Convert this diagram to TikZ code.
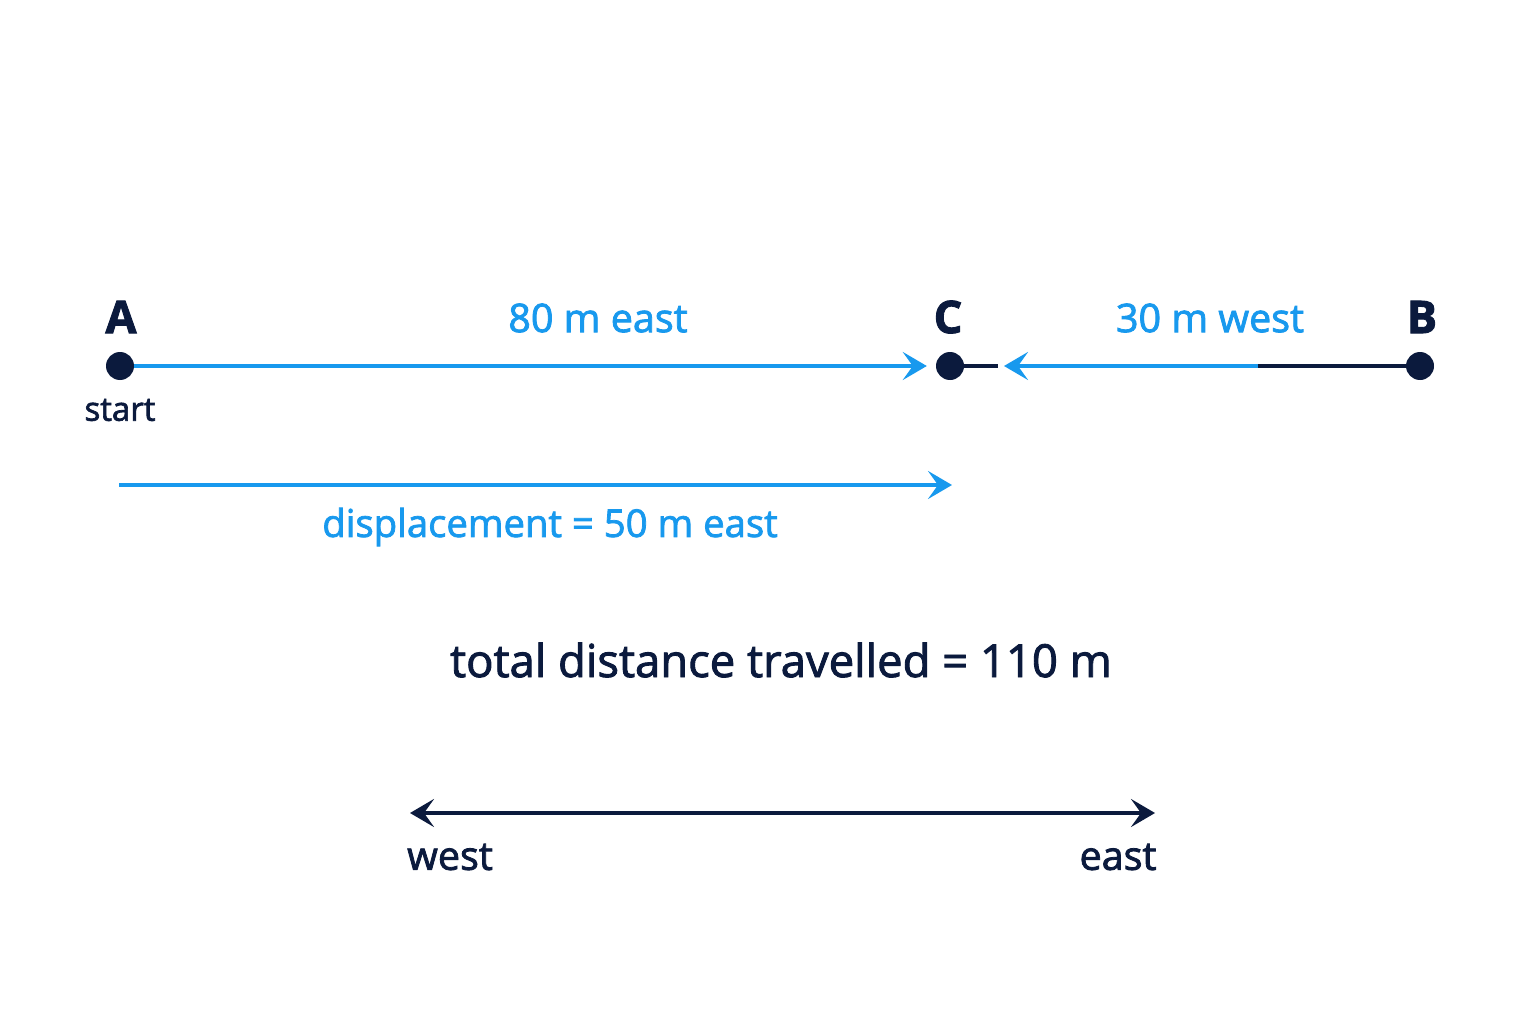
\documentclass[tikz,border=0pt]{standalone}
\usepackage{fontspec}
\setmainfont{Open Sans}[FakeBold=2]
\usetikzlibrary{arrows.meta}
\definecolor{navy}{HTML}{0B1A3D}
\definecolor{sky}{HTML}{1899EE}
\begin{document}
\begin{tikzpicture}[x=1pt,y=-1pt,
  dot/.style={circle,fill=navy,minimum size=28pt,inner sep=0pt},
  lbl/.style={inner sep=0pt,font=\fontsize{39.5}{41}\selectfont},
  ptlbl/.style={inner sep=0pt,text=navy,font=\fontsize{45}{47}\selectfont\bfseries},
  bluearrow/.style={draw=sky,line width=4pt,-{Stealth[length=24pt,width=28pt,inset=10pt]}},
  navyline/.style={draw=navy,line width=3.5pt},
  navyarrow/.style={draw=navy,line width=4pt,{Stealth[length=24pt,width=28pt,inset=10pt]}-{Stealth[length=24pt,width=28pt,inset=10pt]}}]
\fill[white] (0,0) rectangle (1536,1024);
% points
\node[dot] (A) at (120,366) {};
\node[dot] (C) at (950,366) {};
\node[dot] (B) at (1420,366) {};
\node[ptlbl] (Alab) at (121,317) {A};
\node[ptlbl] (Clab) at (948,317) {C};
\node[ptlbl] (Blab) at (1422,317) {B};
\node[lbl,text=navy,font=\fontsize{33}{35}\selectfont] (start) at (120,410) {start};
\coordinate (cend) at (998,366);
\coordinate (mid) at (1258,366);
% legs
\draw[bluearrow,shorten >=9pt] (A) -- (C);
\draw[navyline] (C) -- (cend);
\draw[navyline] (B) -- (mid);
\draw[bluearrow,shorten >=6pt] (mid) -- (cend);
\node[lbl,text=sky] (leg1) at (598,318) {80 m east};
\node[lbl,text=sky] (leg2) at (1210,318) {30 m west};
% displacement
\coordinate (d1) at (119,485);
\coordinate (d2) at (952,485);
\draw[bluearrow] (d1) -- (d2);
\node[lbl,text=sky,font=\fontsize{38.3}{40}\selectfont] (disp) at (550,527) {displacement = 50 m east};
% total
\node[lbl,text=navy,font=\fontsize{45.4}{47}\selectfont] (total) at (781,660) {total distance travelled = 110 m};
% compass
\coordinate (w) at (410,813);
\coordinate (e) at (1155,813);
\draw[navyarrow] (w) -- (e);
\node[lbl,text=navy] (west) at (450,857) {west};
\node[lbl,text=navy] (east) at (1118,857) {east};
\end{tikzpicture}
\end{document}
